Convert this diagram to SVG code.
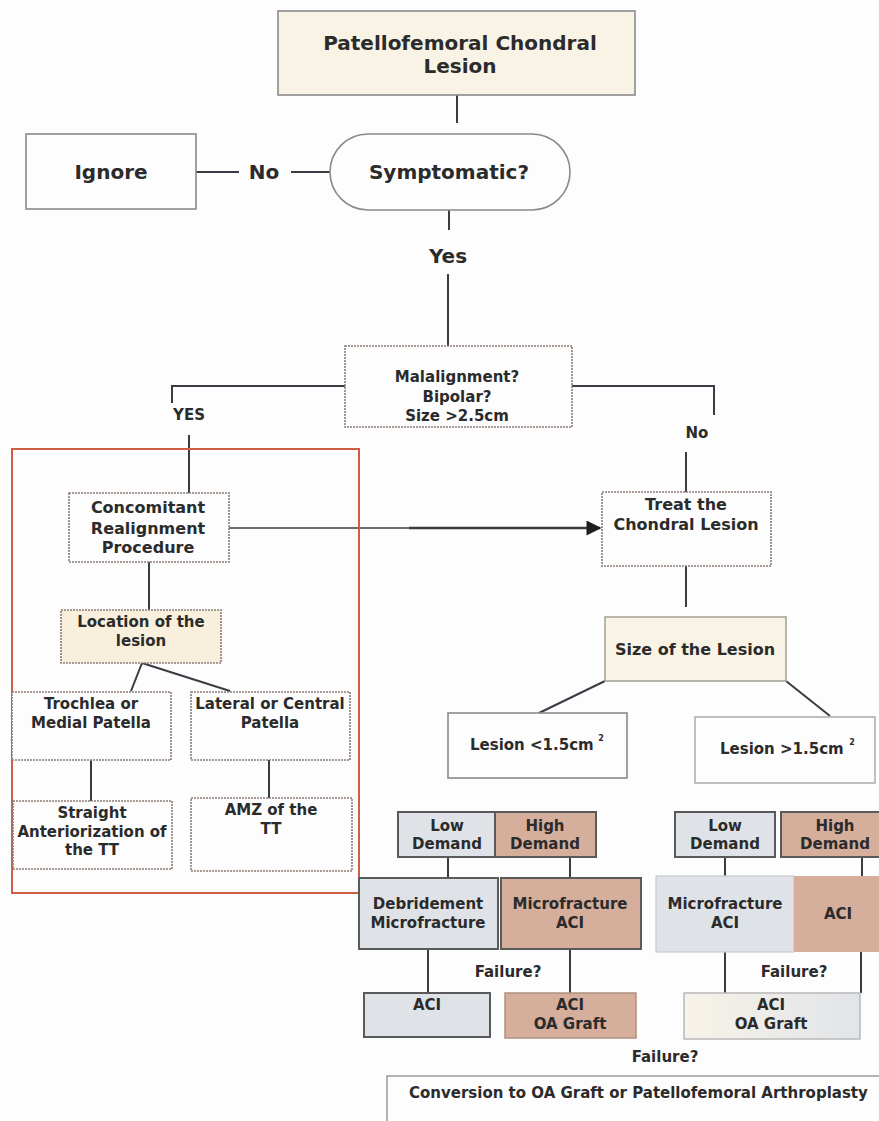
<svg xmlns="http://www.w3.org/2000/svg" width="879" height="1121" viewBox="0 0 879 1121">
<style>
text{font-family:"DejaVu Sans",Verdana,sans-serif;font-weight:bold;fill:#2b2b2b;text-anchor:middle}
.t20{font-size:20px}
.t16{font-size:16px}
.t15{font-size:15px}
.sup{font-size:8px}
.conn{fill:none;stroke:#383d43;stroke-width:2}
.solid{stroke:#8a8a8a;stroke-width:1.6}
.dot{fill:#fdfdfd;stroke:#8a7c74;stroke-width:1.6;stroke-dasharray:2 1}
.cream{fill:#f8f3e4}
.grey{fill:#dfe3e8}
.tan{fill:#d5ae9c}
.dark{stroke:#5a5a5a;stroke-width:2}
</style>
<defs>
<marker id="arrow" viewBox="0 0 10 10" refX="9" refY="5" markerWidth="7" markerHeight="6" orient="auto" markerUnits="strokeWidth">
<path d="M0,0 L10,5 L0,10 z" fill="#1e1e1e"/>
</marker>
<linearGradient id="gfade" x1="0" y1="0" x2="1" y2="0">
<stop offset="0" stop-color="#f8f3e8"/>
<stop offset="1" stop-color="#e1e4e9"/>
</linearGradient>
</defs>
<rect x="0" y="0" width="879" height="1121" fill="#fdfdfd"/>

<g id="connectors">
<path class="conn" d="M457,95 V123"/>
<path class="conn" d="M196,172 H239"/>
<path class="conn" d="M291,172 H330"/>
<path class="conn" d="M449,210 V230"/>
<path class="conn" d="M448,274 V346"/>
<path class="conn" d="M345,386 H172 V403"/>
<path class="conn" d="M189,435 V493"/>
<path class="conn" d="M572,386 H714 V415"/>
<path class="conn" d="M686,452 V492"/>
<path class="conn" d="M229,528 H409" style="stroke-width:1.5"/>
<path class="conn" d="M409,528 H600" style="stroke-width:2.5" marker-end="url(#arrow)"/>
<path class="conn" d="M149,562 V610"/>
<path class="conn" d="M142,663 L131,691 M142,663 L230,691"/>
<path class="conn" d="M91,760 V801"/>
<path class="conn" d="M269,760 V798"/>
<path class="conn" d="M686,566 V607"/>
<path class="conn" d="M605,681 L539,713"/>
<path class="conn" d="M786,681 L830,716"/>
<path class="conn" d="M448,857 V878"/>
<path class="conn" d="M570,857 V878"/>
<path class="conn" d="M725,857 V876"/>
<path class="conn" d="M862,857 V876"/>
<path class="conn" d="M428,949 V993"/>
<path class="conn" d="M570,949 V993"/>
<path class="conn" d="M725,952 V993"/>
<path class="conn" d="M861,952 V993"/>
</g>

<g id="labels">
<text class="t20" x="264" y="179">No</text>
<text class="t20" x="448" y="263">Yes</text>
<text class="t15" x="189" y="420">YES</text>
<text class="t15" x="697" y="438">No</text>
<text class="t15" x="508" y="977">Failure?</text>
<text class="t15" x="794" y="977">Failure?</text>
<text class="t15" x="665" y="1062">Failure?</text>
</g>

<g id="n-title">
<rect x="278" y="11" width="357" height="84" class="cream solid"/>
<text class="t20" x="460" y="50">Patellofemoral Chondral</text>
<text class="t20" x="460" y="73">Lesion</text>
</g>
<g id="n-ignore">
<rect x="26" y="134" width="170" height="75" fill="#fdfdfd" class="solid"/>
<text class="t20" x="111" y="179">Ignore</text>
</g>
<g id="n-symptomatic">
<rect x="330" y="134" width="240" height="76" rx="38" ry="38" fill="#fdfdfd" class="solid"/>
<text class="t20" x="449" y="179">Symptomatic?</text>
</g>
<g id="n-malalignment">
<rect x="345" y="346" width="227" height="81" class="dot"/>
<text class="t15" x="457" y="382">Malalignment?</text>
<text class="t15" x="457" y="402">Bipolar?</text>
<text class="t15" x="457" y="421">Size &gt;2.5cm</text>
</g>
<g id="n-redframe">
<rect x="12" y="449" width="347" height="444" fill="none" stroke="#cf5e45" stroke-width="2"/>
</g>
<g id="n-concomitant">
<rect x="69" y="493" width="160" height="69" class="dot"/>
<text class="t16" x="148" y="513">Concomitant</text>
<text class="t16" x="148" y="534">Realignment</text>
<text class="t16" x="148" y="553">Procedure</text>
</g>
<g id="n-treat">
<rect x="602" y="492" width="169" height="74" class="dot"/>
<text class="t16" x="686" y="510">Treat the</text>
<text class="t16" x="686" y="530">Chondral Lesion</text>
</g>
<g id="n-location">
<rect x="61" y="610" width="160" height="53" class="dot" style="fill:#f8f0dc"/>
<text class="t15" x="141" y="627">Location of the</text>
<text class="t15" x="141" y="646">lesion</text>
</g>
<g id="n-trochlea">
<rect x="12" y="692" width="159" height="68" class="dot"/>
<text class="t15" x="91" y="709">Trochlea or</text>
<text class="t15" x="91" y="728">Medial Patella</text>
</g>
<g id="n-lateral">
<rect x="191" y="692" width="159" height="68" class="dot"/>
<text class="t15" x="270" y="709">Lateral or Central</text>
<text class="t15" x="270" y="728">Patella</text>
</g>
<g id="n-straight">
<rect x="13" y="801" width="159" height="68" class="dot"/>
<text class="t15" x="92" y="818">Straight</text>
<text class="t15" x="92" y="837">Anteriorization of</text>
<text class="t15" x="92" y="855">the TT</text>
</g>
<g id="n-amz">
<rect x="191" y="798" width="161" height="73" class="dot"/>
<text class="t15" x="271" y="815">AMZ of the</text>
<text class="t15" x="271" y="834">TT</text>
</g>
<g id="n-size">
<rect x="605" y="617" width="181" height="64" class="cream solid" style="stroke:#a8a49c"/>
<text class="t16" x="695" y="655">Size of the Lesion</text>
</g>
<g id="n-lesion-small">
<rect x="448" y="713" width="179" height="65" fill="#fdfdfd" class="solid"/>
<text class="t15" x="470" y="750" style="text-anchor:start">Lesion &lt;1.5cm</text>
<text class="sup" x="601" y="741">2</text>
</g>
<g id="n-lesion-large">
<rect x="695" y="717" width="180" height="66" fill="#fdfdfd" class="solid" style="stroke:#b0b0b0"/>
<text class="t15" x="720" y="754" style="text-anchor:start">Lesion &gt;1.5cm</text>
<text class="sup" x="852" y="745">2</text>
</g>
<g id="n-low-left">
<rect x="398" y="812" width="97" height="45" class="grey dark"/>
<text class="t15" x="447" y="831">Low</text>
<text class="t15" x="447" y="849">Demand</text>
</g>
<g id="n-high-left">
<rect x="495" y="812" width="101" height="45" class="tan dark"/>
<text class="t15" x="545" y="831">High</text>
<text class="t15" x="545" y="849">Demand</text>
</g>
<g id="n-low-right">
<rect x="675" y="812" width="100" height="45" class="grey dark"/>
<text class="t15" x="725" y="831">Low</text>
<text class="t15" x="725" y="849">Demand</text>
</g>
<g id="n-high-right">
<rect x="781" y="812" width="104" height="45" class="tan dark"/>
<text class="t15" x="835" y="831">High</text>
<text class="t15" x="835" y="849">Demand</text>
</g>
<g id="n-debridement">
<rect x="359" y="878" width="139" height="71" class="grey dark"/>
<text class="t15" x="428" y="909">Debridement</text>
<text class="t15" x="428" y="928">Microfracture</text>
</g>
<g id="n-microaci-left">
<rect x="501" y="878" width="140" height="71" class="tan dark"/>
<text class="t15" x="570" y="909">Microfracture</text>
<text class="t15" x="570" y="928">ACI</text>
</g>
<g id="n-microaci-right">
<rect x="656" y="876" width="138" height="76" class="grey" stroke="#c8cbd0" stroke-width="1.2"/>
<text class="t15" x="725" y="909">Microfracture</text>
<text class="t15" x="725" y="928">ACI</text>
</g>
<g id="n-aci-right">
<rect x="794" y="876" width="91" height="76" class="tan"/>
<text class="t15" x="838" y="919">ACI</text>
</g>
<g id="n-aci-left">
<rect x="364" y="993" width="126" height="44" class="grey dark"/>
<text class="t15" x="427" y="1010">ACI</text>
</g>
<g id="n-aci-oa-left">
<rect x="505" y="993" width="131" height="45" class="tan" stroke="#b09080" stroke-width="1.5"/>
<text class="t15" x="570" y="1010">ACI</text>
<text class="t15" x="570" y="1029">OA Graft</text>
</g>
<g id="n-aci-oa-right">
<rect x="684" y="993" width="176" height="46" fill="url(#gfade)" stroke="#b8b8b8" stroke-width="1.5"/>
<text class="t15" x="771" y="1010">ACI</text>
<text class="t15" x="771" y="1029">OA Graft</text>
</g>
<g id="n-conversion">
<rect x="387" y="1076" width="500" height="60" fill="#fdfdfd" stroke="#999" stroke-width="1.5"/>
<text class="t15" x="409" y="1098" style="text-anchor:start">Conversion to OA Graft or Patellofemoral Arthroplasty</text>
</g>
</svg>
